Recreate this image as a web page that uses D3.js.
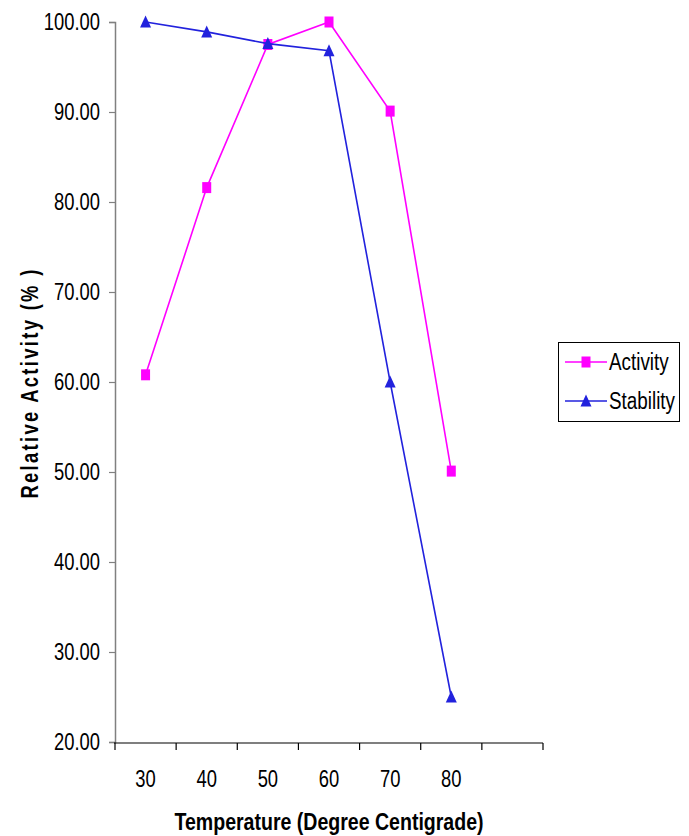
<!DOCTYPE html>
<html>
<head>
<meta charset="utf-8">
<script src="https://cdn.jsdelivr.net/npm/d3@7/dist/d3.min.js"></script>
<style>
  html, body { margin: 0; padding: 0; background: #fff; }
  svg { display: block; }
  text { font-family: "Liberation Sans", Arial, sans-serif; fill: #000; }
</style>
</head>
<body>
<svg id="chart" width="689" height="836"></svg>
<script>
// ---- data ----
const categories = ["30", "40", "50", "60", "70", "80"];
const activity = [60.8, 81.6, 97.5, 100.0, 90.1, 50.1];
const stability = [100.0, 98.9, 97.6, 96.8, 60.0, 25.0];
const yTicks = [20, 30, 40, 50, 60, 70, 80, 90, 100];
const seriesNames = ["Activity", "Stability"];
const xTitle = "Temperature (Degree Centigrade)";
const yTitle = "Relative Activity (% )";

// ---- layout ----
const svg = d3.select("#chart");
const plotL = 115, plotR = 543, plotT = 22, plotB = 742;
const magenta = "#FF00FF", blue = "#2222DD";
const SX = 0.8;          // horizontal condensing of the (narrow-looking) font
const FS = "23px";

function narrowText(g, px, py, str, anchor, sx, size, bold) {
  return g.append("text")
    .attr("transform", `translate(${px},${py}) scale(${sx},1)`)
    .attr("text-anchor", anchor)
    .style("font-size", size)
    .style("font-weight", bold ? "bold" : "normal")
    .text(str);
}

// Excel-style category axis with one empty trailing slot
const x = d3.scaleBand().domain(categories.concat([" "])).range([plotL, plotR]).padding(0);
const y = d3.scaleLinear().domain([20, 100]).range([plotB, plotT]);
const cx = c => x(c) + x.bandwidth() / 2;

// y axis
const yAxis = d3.axisLeft(y).tickValues(yTicks).tickFormat(d3.format(".2f")).tickSize(6).tickPadding(9);
const gy = svg.append("g").attr("transform", `translate(${plotL},0)`).call(yAxis);
gy.select(".domain").attr("stroke", "#808080").attr("stroke-width", 1.5);
gy.selectAll(".tick line").attr("stroke", "#808080").attr("stroke-width", 1.2);
gy.selectAll(".tick text").style("font-size", FS).attr("fill", "#000")
  .attr("x", -15 / SX).attr("transform", `scale(${SX},1)`);

// x axis: line + boundary ticks
const gx = svg.append("g");
gx.append("line").attr("x1", plotL - 1).attr("x2", plotR).attr("y1", plotB + 1).attr("y2", plotB + 1)
  .attr("stroke", "#000").attr("stroke-width", 1.2);
const bounds = d3.range(x.domain().length + 1).map(i => plotL + i * x.step());
gx.selectAll("line.t").data(bounds).join("line").attr("class", "t")
  .attr("x1", d => d).attr("x2", d => d).attr("y1", plotB + 1).attr("y2", plotB + 8)
  .attr("stroke", "#000").attr("stroke-width", 1.2);
categories.forEach(c => narrowText(gx, cx(c), 787, c, "middle", SX, FS, false));

// titles
narrowText(svg, 329, 830, xTitle, "middle", 0.85, FS, true);
svg.append("text").attr("transform", `translate(38,383) rotate(-90) scale(${SX},1)`).attr("text-anchor", "middle")
  .style("font-size", FS).style("font-weight", "bold").style("letter-spacing", "2.9px").text(yTitle);

// series
const line = d3.line().x((d, i) => cx(categories[i])).y(d => y(d));
function drawMarker(g, px, py, color, shape) {
  if (shape === "square") {
    g.append("rect").attr("x", px - 4.5).attr("y", py - 5.5).attr("width", 9).attr("height", 11).attr("fill", color);
  } else {
    g.append("path").attr("d", `M${px},${py - 6.5}L${px + 5.5},${py + 5.5}L${px - 5.5},${py + 5.5}Z`).attr("fill", color);
  }
}
function drawSeries(vals, color, shape) {
  svg.append("path").datum(vals).attr("d", line).attr("fill", "none")
    .attr("stroke", color).attr("stroke-width", 1.6);
  const g = svg.append("g");
  vals.forEach((v, i) => drawMarker(g, cx(categories[i]), y(v), color, shape));
}
drawSeries(activity, magenta, "square");
drawSeries(stability, blue, "triangle");

// legend
const lg = svg.append("g");
lg.append("rect").attr("x", 558.5).attr("y", 342.5).attr("width", 121).attr("height", 79)
  .attr("fill", "#fff").attr("stroke", "#000").attr("stroke-width", 1);
const legendItems = [{name: seriesNames[0], color: magenta, shape: "square", yy: 362},
                     {name: seriesNames[1], color: blue, shape: "triangle", yy: 401}];
legendItems.forEach(it => {
  lg.append("line").attr("x1", 565).attr("x2", 607).attr("y1", it.yy).attr("y2", it.yy)
    .attr("stroke", it.color).attr("stroke-width", 1.6);
  drawMarker(lg, 586, it.yy, it.color, it.shape);
  narrowText(lg, 609, it.yy + 8, it.name, "start", 0.82, FS, false);
});
</script>
</body>
</html>
